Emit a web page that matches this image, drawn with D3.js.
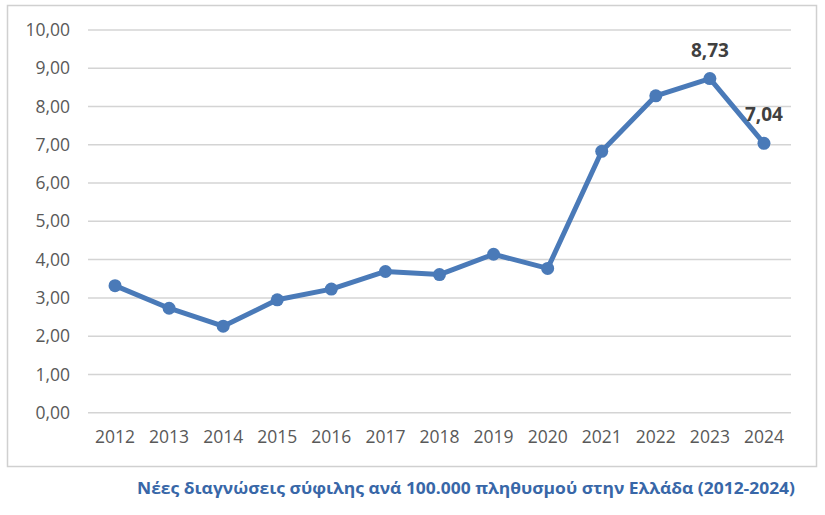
<!DOCTYPE html>
<html>
<head>
<meta charset="utf-8">
<script src="https://cdn.jsdelivr.net/npm/d3@7"></script>
<style>
  body { margin: 0; background: #fff; }
  svg { display: block; }
</style>
</head>
<body>
<svg id="grafico" width="825" height="515"></svg>
<script>
// datos
const years = ['2012','2013','2014','2015','2016','2017','2018','2019','2020','2021','2022','2023','2024'];
const rates = [3.32, 2.73, 2.26, 2.95, 3.23, 3.69, 3.61, 4.14, 3.77, 6.83, 8.28, 8.73, 7.04];
const yTicks = [0, 1, 2, 3, 4, 5, 6, 7, 8, 9, 10];
const labeled = ['2023', '2024'];
const title = 'Νέες διαγνώσεις σύφιλης ανά 100.000 πληθυσμού στην Ελλάδα (2012-2024)';

const svg = d3.select('#grafico');
const fmt = v => d3.format('.2f')(v).replace('.', ',');

// marco del grafico
svg.append('rect')
  .attr('x', 7.5).attr('y', 5.5)
  .attr('width', 809).attr('height', 461)
  .attr('fill', '#fff')
  .attr('stroke', '#d0d0d0')
  .attr('stroke-width', 1.5);

const plotL = 88, plotR = 791, plotT = 30, plotB = 412.7;

const x = d3.scaleBand().domain(years).range([plotL, plotR]);
const y = d3.scaleLinear().domain([0, 10]).range([plotB, plotT]);

// rejilla
svg.append('g')
  .selectAll('line')
  .data(yTicks)
  .join('line')
  .attr('x1', plotL).attr('x2', plotR)
  .attr('y1', d => y(d)).attr('y2', d => y(d))
  .attr('stroke', '#d4d4d4')
  .attr('stroke-width', 1.5);

// eje y
const yAxis = d3.axisLeft(y).tickValues(yTicks).tickFormat(fmt).tickSize(0).tickPadding(18);
svg.append('g')
  .attr('transform', 'translate(' + plotL + ',0)')
  .call(yAxis)
  .call(g => g.select('.domain').remove())
  .selectAll('text')
  .attr('fill', '#595959')
  .style('font-family', 'Open Sans, sans-serif')
  .style('font-size', '17.5px');

// eje x
const xAxis = d3.axisBottom(x).tickSize(0).tickPadding(18);
svg.append('g')
  .attr('transform', 'translate(0,' + plotB + ')')
  .call(xAxis)
  .call(g => g.select('.domain').remove())
  .selectAll('text')
  .attr('fill', '#595959')
  .style('font-family', 'Open Sans, sans-serif')
  .style('font-size', '17.5px');

// linea
const cx = d => x(d) + x.bandwidth() / 2;
svg.append('path')
  .datum(rates)
  .attr('fill', 'none')
  .attr('stroke', '#4a7ab8')
  .attr('stroke-width', 5)
  .attr('stroke-linejoin', 'round')
  .attr('d', d3.line()
    .x((d, i) => cx(years[i]))
    .y(d => y(d)));

// puntos
svg.append('g')
  .selectAll('circle')
  .data(rates)
  .join('circle')
  .attr('cx', (d, i) => cx(years[i]))
  .attr('cy', d => y(d))
  .attr('r', 6.5)
  .attr('fill', '#4a7ab8');

// etiquetas
svg.append('g')
  .selectAll('text')
  .data(years.filter(d => labeled.includes(d)))
  .join('text')
  .attr('x', d => cx(d))
  .attr('y', d => y(rates[years.indexOf(d)]) - 22)
  .attr('text-anchor', 'middle')
  .attr('fill', '#404040')
  .style('font-family', 'Open Sans, sans-serif')
  .style('font-weight', 'bold')
  .style('font-size', '19px')
  .text(d => fmt(rates[years.indexOf(d)]));

// titulo
svg.append('text')
  .attr('x', 466)
  .attr('y', 494)
  .attr('text-anchor', 'middle')
  .attr('fill', '#3867a8')
  .style('font-family', 'Open Sans, sans-serif')
  .style('font-weight', 'bold')
  .style('font-size', '16.5px')
  .attr('textLength', 658)
  .attr('lengthAdjust', 'spacingAndGlyphs')
  .text(title);
</script>
</body>
</html>
